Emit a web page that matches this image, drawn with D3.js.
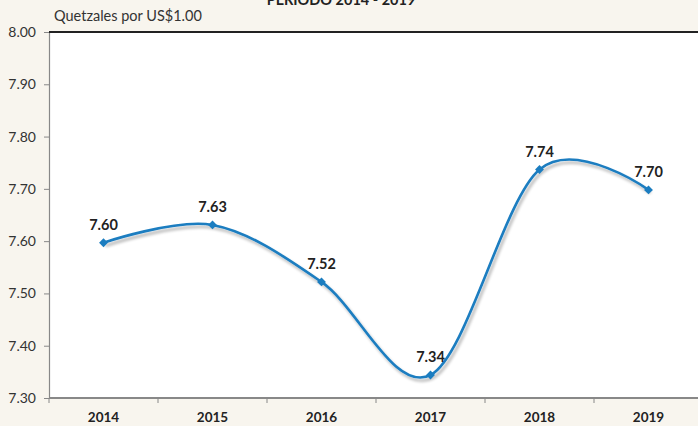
<!DOCTYPE html>
<html>
<head>
<meta charset="utf-8">
<script src="https://cdn.jsdelivr.net/npm/d3@7"></script>
<style>
  body { margin: 0; background: #f8f5ee; }
  svg { display: block; font-family: Lato, "Open Sans", sans-serif; }
</style>
</head>
<body>
<div id="chart"></div>
<script>
const years = ['2014', '2015', '2016', '2017', '2018', '2019'];
const rates = [7.597, 7.631, 7.522, 7.344, 7.737, 7.698];
const yTicks = [7.30, 7.40, 7.50, 7.60, 7.70, 7.80, 7.90, 8.00];

const width = 698;
const height = 426;
const plot = { left: 49, top: 32, right: 703, bottom: 398 };

const svg = d3.select('#chart').append('svg')
    .attr('width', width)
    .attr('height', height);

svg.append('rect')
    .attr('width', width)
    .attr('height', height)
    .attr('fill', '#f8f5ee');

// soft shadow under the line
const defs = svg.append('defs');
const f = defs.append('filter').attr('id', 'shadow')
    .attr('x', '-10%').attr('y', '-10%').attr('width', '120%').attr('height', '130%');
f.append('feGaussianBlur').attr('in', 'SourceAlpha').attr('stdDeviation', 1.5).attr('result', 'b');
f.append('feOffset').attr('in', 'b').attr('dx', 2).attr('dy', 3).attr('result', 'o');
f.append('feComponentTransfer').attr('in', 'o').attr('result', 'o2')
    .append('feFuncA').attr('type', 'linear').attr('slope', 0.3);
const m = f.append('feMerge');
m.append('feMergeNode').attr('in', 'o2');
m.append('feMergeNode').attr('in', 'SourceGraphic');

const x = d3.scaleBand()
    .domain(years)
    .range([plot.left, plot.right]);

const y = d3.scaleLinear()
    .domain([7.30, 8.00])
    .range([plot.bottom, plot.top]);

// Plot area
svg.append('rect')
    .attr('x', plot.left)
    .attr('y', plot.top)
    .attr('width', plot.right - plot.left)
    .attr('height', plot.bottom - plot.top)
    .attr('fill', '#fff');

// Title (cut at top, as in the source)
svg.append('text')
    .attr('x', 341)
    .attr('y', 5)
    .attr('text-anchor', 'middle')
    .attr('font-size', '14.5px')
    .attr('font-weight', 'bold')
    .attr('fill', '#222')
    .text('PERÍODO 2014 - 2019');

svg.append('text')
    .attr('x', 54)
    .attr('y', 21)
    .attr('font-size', '14.5px')
    .attr('fill', '#333')
    .text('Quetzales por US$1.00');

// Y axis
const yAxis = svg.append('g')
    .attr('transform', `translate(${plot.left},0)`)
    .call(d3.axisLeft(y).tickValues(yTicks).tickFormat(d3.format('.2f')).tickSize(5).tickPadding(8));
yAxis.select('.domain').attr('stroke', '#888').attr('stroke-width', 1.2);
yAxis.selectAll('.tick line').attr('stroke', '#888');
yAxis.selectAll('.tick text')
    .attr('font-size', '14px')
    .attr('fill', '#333')
    .attr('font-family', 'Lato, sans-serif');

// X axis
const xAxis = svg.append('g')
    .attr('transform', `translate(0,${plot.bottom})`)
    .call(d3.axisBottom(x).tickSize(0).tickPadding(14));
xAxis.select('.domain').remove();
xAxis.selectAll('.tick text')
    .attr('font-size', '13.5px')
    .attr('font-weight', 'bold')
    .attr('fill', '#222')
    .attr('font-family', 'Lato, sans-serif');

svg.append('line')
    .attr('x1', plot.left).attr('x2', plot.right)
    .attr('y1', plot.bottom).attr('y2', plot.bottom)
    .attr('stroke', '#888').attr('stroke-width', 1.8);

// category boundary ticks
svg.append('g').selectAll('line')
    .data(years)
    .join('line')
    .attr('x1', d => x(d)).attr('x2', d => x(d))
    .attr('y1', plot.bottom).attr('y2', plot.bottom + 5)
    .attr('stroke', '#888');

// top border
svg.append('line')
    .attr('x1', plot.left).attr('x2', plot.right)
    .attr('y1', plot.top).attr('y2', plot.top)
    .attr('stroke', '#222').attr('stroke-width', 1.8);

const pts = years.map((yr, i) => ({ yr, v: rates[i] }));
const cx = d => x(d.yr) + x.bandwidth() / 2;

const line = d3.line()
    .x(cx)
    .y(d => y(d.v))
    .curve(d3.curveCardinal.tension(0));

svg.append('path')
    .datum(pts)
    .attr('d', line)
    .attr('fill', 'none')
    .attr('stroke', '#1b7dc0')
    .attr('stroke-width', 2.6)
    .attr('filter', 'url(#shadow)');

svg.append('g').selectAll('path')
    .data(pts)
    .join('path')
    .attr('transform', d => `translate(${cx(d)},${y(d.v)})`)
    .attr('d', d3.symbol(d3.symbolDiamond2, 50))
    .attr('fill', '#1b7dc0');

svg.append('g').selectAll('text')
    .data(pts)
    .join('text')
    .attr('x', cx)
    .attr('y', d => y(d.v) - 13)
    .attr('text-anchor', 'middle')
    .attr('font-size', '14.5px')
    .attr('font-weight', 'bold')
    .attr('fill', '#222')
    .text(d => d.v.toFixed(2));
</script>
</body>
</html>
